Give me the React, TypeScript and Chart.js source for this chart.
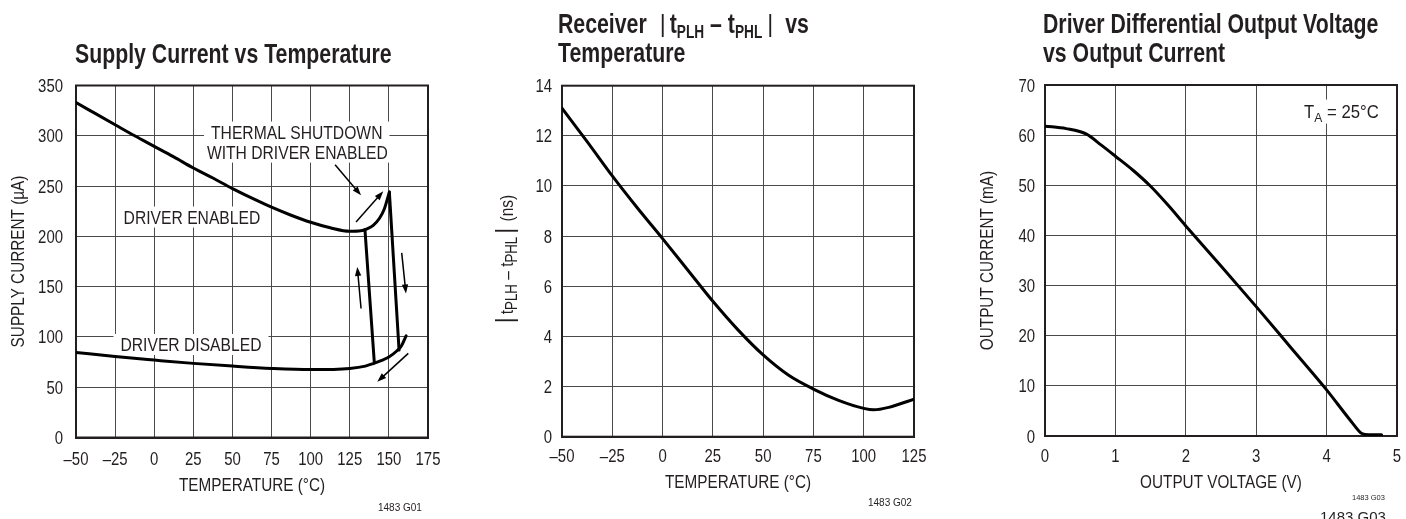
import React, { useEffect, useRef } from "react";
import { Chart, registerables } from "chart.js";

Chart.register(...registerables);

// ---------------- data ----------------
// Chart 1: Supply Current vs Temperature
const SUPPLY_X_TICKS = ["–50", "–25", "0", "25", "50", "75", "100", "125", "150", "175"];
const SUPPLY_Y_TICKS = ["0", "50", "100", "150", "200", "250", "300", "350"];
const ENABLED_TEMP = [-50, -37.5, -25, -12.5, 0, 12.5, 25, 37.5, 50, 62.5, 75, 87.5, 100, 112.5, 125, 132, 136, 140, 144, 147, 150.3];
const ENABLED_CURRENT = [333, 322, 311, 300, 289.5, 279, 268, 258, 247.5, 238, 229, 221, 214, 208.5, 205, 205.5, 207.5, 211, 218, 227, 244];
const SHUTDOWN_TEMP = [150.3, 156.5];
const SHUTDOWN_CURRENT = [244, 87];
const RECOVERY_TEMP = [134.7, 140.7];
const RECOVERY_CURRENT = [206.7, 74.3];
const DISABLED_TEMP = [-50, -25, 0, 25, 50, 75, 100, 125, 135, 140, 145, 150, 155, 158, 161];
const DISABLED_CURRENT = [84.6, 80.5, 77, 73.7, 71, 68.7, 67.5, 68.7, 71, 73.5, 76.5, 80, 86, 91, 101];
const SUPPLY_LABELS = [
  { text: "THERMAL SHUTDOWN", x: 91.1, y: 303.7 },
  { text: "WITH DRIVER ENABLED", x: 91.5, y: 283.8 },
  { text: "DRIVER ENABLED", x: 24.1, y: 219.2 },
  { text: "DRIVER DISABLED", x: 23.5, y: 92.5 },
];
const SUPPLY_ARROWS = [
  { from: [115.6, 271.3], to: [132.2, 240.8] },
  { from: [129, 214.3], to: [146.4, 244.8] },
  { from: [132.2, 128.3], to: [129.8, 169.6] },
  { from: [158.2, 183.5], to: [160.9, 143.2] },
  { from: [162.4, 83.6], to: [142.6, 55.4] },
];

// Chart 2: Receiver |tPLH - tPHL| vs Temperature
const SKEW_X_TICKS = ["–50", "–25", "0", "25", "50", "75", "100", "125"];
const SKEW_Y_TICKS = ["0", "2", "4", "6", "8", "10", "12", "14"];
const SKEW_TEMP = [-50, -37.5, -25, -12.5, 0, 12.5, 25, 37.5, 50, 62.5, 75, 87.5, 100, 105, 112.5, 125];
const SKEW_NS = [13.1, 11.77, 10.4, 9.12, 7.9, 6.65, 5.4, 4.26, 3.26, 2.46, 1.9, 1.45, 1.13, 1.07, 1.17, 1.5];

// Chart 3: Driver Differential Output Voltage vs Output Current
const DRV_X_TICKS = ["0", "1", "2", "3", "4", "5"];
const DRV_Y_TICKS = ["0", "10", "20", "30", "40", "50", "60", "70"];
const DRV_VOLT = [0, 0.3, 0.59, 0.8, 1.0, 1.25, 1.5, 1.75, 2.0, 2.5, 3.0, 3.5, 4.0, 4.35, 4.5, 4.6, 4.78];
const DRV_CURRENT = [61.8, 61.3, 60.2, 58.0, 55.8, 53.0, 49.8, 46.0, 41.9, 33.9, 25.8, 17.5, 9.2, 2.9, 0.5, 0.25, 0.25];
const DRV_NOTE = { x: 3.68, y: 64.7 };

// ---------------- style ----------------
const SANS = '"Liberation Sans", Arial, Helvetica, sans-serif';
const TEXT = "#231f20";
const GRID = "#4a4a4a";
const TITLE = `bold 28px ${SANS}`;
const TITLE_SUB = `bold 18px ${SANS}`;
const BAR = `23px ${SANS}`;
const R18 = `18px ${SANS}`;
const R16 = `16px ${SANS}`;
const R13 = `13px ${SANS}`;
const FOOT = `10px ${SANS}`;
const SX_TITLE = 0.76;
const SX = 0.83;
const SX_AXIS = 0.85;
const SX_LABEL = 0.87;

type Seg = { t: string; font: string; sx?: number; dy?: number; pre?: number };

function measure(ctx: CanvasRenderingContext2D, text: string, font: string, sx: number) {
  ctx.font = font;
  return ctx.measureText(text).width * sx;
}

function drawText(
  ctx: CanvasRenderingContext2D,
  text: string,
  x: number,
  y: number,
  font: string,
  sx: number,
  align: "left" | "center" | "right" = "left"
) {
  const w = measure(ctx, text, font, sx);
  const x0 = align === "left" ? x : align === "center" ? x - w / 2 : x - w;
  ctx.save();
  ctx.translate(x0, y);
  ctx.scale(sx, 1);
  ctx.textAlign = "left";
  ctx.textBaseline = "alphabetic";
  ctx.fillText(text, 0, 0);
  ctx.restore();
  return w;
}

function richWidth(ctx: CanvasRenderingContext2D, segs: Seg[]) {
  let w = 0;
  for (const s of segs) w += (s.pre || 0) + measure(ctx, s.t, s.font, s.sx ?? SX);
  return w;
}

function drawRich(ctx: CanvasRenderingContext2D, segs: Seg[], x: number, y: number) {
  let cx = x;
  for (const s of segs) {
    cx += s.pre || 0;
    cx += drawText(ctx, s.t, cx, y + (s.dy || 0), s.font, s.sx ?? SX, "left");
  }
}

function frame(chart: any) {
  const { ctx, chartArea: a } = chart;
  ctx.save();
  ctx.strokeStyle = TEXT;
  ctx.lineWidth = 2;
  ctx.strokeRect(a.left, a.top, a.right - a.left, a.bottom - a.top);
  ctx.restore();
}

// tick labels and axis titles drawn from the chart's own scales
function axisText(
  chart: any,
  xLabels: string[],
  yLabels: string[],
  xTickBase: number,
  yTickPad: number,
  xTitle: string,
  xTitleBase: number,
  yTitle: string | null,
  yTitleX: number
) {
  const { ctx, chartArea: a, scales } = chart;
  ctx.save();
  ctx.fillStyle = TEXT;
  scales.x.ticks.forEach((t: any, i: number) => {
    const px = scales.x.getPixelForValue(t.value);
    drawText(ctx, xLabels[i] ?? "", px, a.bottom + xTickBase, R18, SX, "center");
  });
  scales.y.ticks.forEach((t: any, i: number) => {
    const py = scales.y.getPixelForValue(t.value);
    drawText(ctx, yLabels[i] ?? "", a.left - yTickPad, py + 6.5, R18, SX, "right");
  });
  drawText(ctx, xTitle, (a.left + a.right) / 2, a.bottom + xTitleBase, R18, SX_AXIS, "center");
  if (yTitle) {
    ctx.translate(yTitleX, (a.top + a.bottom) / 2);
    ctx.rotate(-Math.PI / 2);
    drawText(ctx, yTitle, 0, 0, R18, SX_AXIS, "center");
  }
  ctx.restore();
}

function arrow(ctx: CanvasRenderingContext2D, x1: number, y1: number, x2: number, y2: number) {
  const ang = Math.atan2(y2 - y1, x2 - x1);
  const L = 9;
  const W = 3.2;
  const c = Math.cos(ang);
  const s = Math.sin(ang);
  ctx.beginPath();
  ctx.moveTo(x1, y1);
  ctx.lineTo(x2 - L * 0.6 * c, y2 - L * 0.6 * s);
  ctx.stroke();
  ctx.beginPath();
  ctx.moveTo(x2, y2);
  ctx.lineTo(x2 - L * c + W * s, y2 - L * s - W * c);
  ctx.lineTo(x2 - L * c - W * s, y2 - L * s + W * c);
  ctx.closePath();
  ctx.fill();
}

function linScale(min: number, max: number, step: number, fit: number, horizontal: boolean) {
  return {
    type: "linear",
    min,
    max,
    ticks: { stepSize: step, autoSkip: false, display: false },
    grid: { color: GRID, lineWidth: 1, drawTicks: false },
    border: { display: true, color: TEXT, width: 2 },
    title: { display: false },
    afterFit: (s: any) => {
      if (horizontal) s.height = fit;
      else s.width = fit;
    },
  };
}

function lineDs(xs: number[], ys: number[]) {
  return {
    data: xs.map((x, i) => ({ x, y: ys[i] })),
    borderColor: "#000",
    borderWidth: 3,
    pointRadius: 0,
    fill: false,
    cubicInterpolationMode: "monotone",
    borderCapStyle: "round",
    borderJoinStyle: "round",
  };
}

const baseOptions = {
  animation: false,
  responsive: false,
  events: [],
  plugins: { legend: { display: false }, tooltip: { enabled: false } },
};

// ---------------- chart 1 ----------------
function buildSupply(): any {
  const decor = {
    id: "supplyDecor",
    beforeDatasetsDraw(chart: any) {
      const { ctx, scales } = chart;
      const { x, y } = scales;
      ctx.save();
      ctx.fillStyle = "#fff";
      for (const l of SUPPLY_LABELS) {
        const px = x.getPixelForValue(l.x);
        const py = y.getPixelForValue(l.y);
        const w = measure(ctx, l.text, R18, SX_LABEL);
        ctx.fillRect(px - w / 2 - 7, py - 10.5, w + 14, 21);
      }
      ctx.fillStyle = TEXT;
      for (const l of SUPPLY_LABELS) {
        drawText(ctx, l.text, x.getPixelForValue(l.x), y.getPixelForValue(l.y) + 7, R18, SX_LABEL, "center");
      }
      ctx.restore();
      frame(chart);
    },
    afterDatasetsDraw(chart: any) {
      const { ctx, scales } = chart;
      const { x, y } = scales;
      ctx.save();
      ctx.strokeStyle = "#000";
      ctx.fillStyle = "#000";
      ctx.lineWidth = 1.5;
      for (const a of SUPPLY_ARROWS) {
        arrow(
          ctx,
          x.getPixelForValue(a.from[0]),
          y.getPixelForValue(a.from[1]),
          x.getPixelForValue(a.to[0]),
          y.getPixelForValue(a.to[1])
        );
      }
      ctx.restore();
    },
    afterDraw(chart: any) {
      const { ctx } = chart;
      axisText(chart, SUPPLY_X_TICKS, SUPPLY_Y_TICKS, 27.5, 13, "TEMPERATURE (°C)", 53, "SUPPLY CURRENT (µA)", 24);
      ctx.save();
      ctx.fillStyle = TEXT;
      drawText(ctx, "Supply Current vs Temperature", 75, 63, TITLE, SX_TITLE);
      drawText(ctx, "1483 G01", 378, 511, FOOT, 1);
      ctx.restore();
    },
  };
  return {
    type: "line",
    data: {
      datasets: [
        lineDs(ENABLED_TEMP, ENABLED_CURRENT),
        lineDs(SHUTDOWN_TEMP, SHUTDOWN_CURRENT),
        lineDs(RECOVERY_TEMP, RECOVERY_CURRENT),
        lineDs(DISABLED_TEMP, DISABLED_CURRENT),
      ],
    },
    options: {
      ...baseOptions,
      layout: { padding: { left: 0, right: 42, top: 85.5, bottom: 23.2 } },
      scales: {
        x: linScale(-50, 175, 25, 58.3, true),
        y: linScale(0, 350, 50, 76, false),
      },
    },
    plugins: [decor],
  };
}

// ---------------- chart 2 ----------------
function buildSkew(): any {
  const decor = {
    id: "skewDecor",
    beforeDatasetsDraw(chart: any) {
      frame(chart);
    },
    afterDraw(chart: any) {
      const { ctx } = chart;
      axisText(chart, SKEW_X_TICKS, SKEW_Y_TICKS, 24.8, 10, "TEMPERATURE (°C)", 51.6, null, 0);
      ctx.save();
      ctx.fillStyle = TEXT;
      drawRich(
        ctx,
        [
          { t: "Receiver", font: TITLE, sx: SX_TITLE },
          { t: "|", font: BAR, sx: 1, pre: 13, dy: -1 },
          { t: "t", font: TITLE, sx: SX_TITLE, pre: 4 },
          { t: "PLH", font: TITLE_SUB, sx: SX_TITLE, dy: 5 },
          { t: " – t", font: TITLE, sx: SX_TITLE },
          { t: "PHL", font: TITLE_SUB, sx: SX_TITLE, dy: 5 },
          { t: "|", font: BAR, sx: 1, pre: 5, dy: -1 },
          { t: "vs", font: TITLE, sx: SX_TITLE, pre: 12 },
        ],
        88,
        33.3
      );
      drawText(ctx, "Temperature", 88, 61.7, TITLE, SX_TITLE);
      // rotated y-axis title with subscripts
      const segs: Seg[] = [
        { t: "|", font: BAR, sx: 1, dy: 0 },
        { t: "t", font: R18, sx: 0.86, pre: 3 },
        { t: "PLH", font: R16, sx: 0.83, dy: 4 },
        { t: " – t", font: R18, sx: 0.86 },
        { t: "PHL", font: R16, sx: 0.83, dy: 4 },
        { t: "|", font: BAR, sx: 1, pre: 3, dy: 0 },
        { t: " (ns)", font: R18, sx: 0.86, pre: 2 },
      ];
      const w = richWidth(ctx, segs);
      ctx.translate(43, 259);
      ctx.rotate(-Math.PI / 2);
      drawRich(ctx, segs, -w / 2, 0);
      ctx.setTransform(1, 0, 0, 1, 0, 0);
      drawText(ctx, "1483 G02", 398, 506, FOOT, 1);
      ctx.restore();
    },
  };
  return {
    type: "line",
    data: { datasets: [lineDs(SKEW_TEMP, SKEW_NS)] },
    options: {
      ...baseOptions,
      layout: { padding: { left: 0, right: 26, top: 85.7, bottom: 26.5 } },
      scales: {
        x: linScale(-50, 125, 25, 55.8, true),
        y: linScale(0, 14, 2, 92, false),
      },
    },
    plugins: [decor],
  };
}

// ---------------- chart 3 ----------------
function buildDriver(): any {
  const noteSegs: Seg[] = [
    { t: "T", font: R18, sx: 0.93 },
    { t: "A", font: R13, sx: 0.93, dy: 4 },
    { t: " = 25°C", font: R18, sx: 0.93 },
  ];
  const decor = {
    id: "drvDecor",
    beforeDatasetsDraw(chart: any) {
      const { ctx, scales } = chart;
      const px = scales.x.getPixelForValue(DRV_NOTE.x);
      const py = scales.y.getPixelForValue(DRV_NOTE.y);
      ctx.save();
      const w = richWidth(ctx, noteSegs);
      ctx.fillStyle = "#fff";
      ctx.fillRect(px - 4, py - 12, w + 8, 24);
      ctx.fillStyle = TEXT;
      drawRich(ctx, noteSegs, px, py + 6.5);
      ctx.restore();
      frame(chart);
    },
    afterDraw(chart: any) {
      const { ctx } = chart;
      axisText(chart, DRV_X_TICKS, DRV_Y_TICKS, 25.7, 10, "OUTPUT VOLTAGE (V)", 52.3, "OUTPUT CURRENT (mA)", 53.3);
      ctx.save();
      ctx.fillStyle = TEXT;
      drawText(ctx, "Driver Differential Output Voltage", 103, 33.3, TITLE, SX_TITLE);
      drawText(ctx, "vs Output Current", 103, 61.7, TITLE, SX_TITLE);
      drawText(ctx, "1483 G03", 380, 522, `15px ${SANS}`, 1);
      drawText(ctx, "1483 G03", 412, 500, `7.5px ${SANS}`, 1);
      ctx.restore();
    },
  };
  return {
    type: "line",
    data: { datasets: [lineDs(DRV_VOLT, DRV_CURRENT)] },
    options: {
      ...baseOptions,
      layout: { padding: { left: 0, right: 9, top: 85, bottom: 26.5 } },
      scales: {
        x: linScale(0, 5, 1, 56.5, true),
        y: linScale(0, 70, 10, 105, false),
      },
    },
    plugins: [decor],
  };
}

function Panel({ left, width, build }: { left: number; width: number; build: () => any }) {
  const ref = useRef<HTMLCanvasElement>(null);
  useEffect(() => {
    const chart = new Chart(ref.current as HTMLCanvasElement, build());
    return () => chart.destroy();
  }, []);
  return (
    <canvas
      ref={ref}
      width={width}
      height={519}
      style={{ position: "absolute", left, top: 0, width, height: 519 }}
    />
  );
}

export default function App() {
  return (
    <div
      style={{
        position: "absolute",
        left: 0,
        top: 0,
        width: 1406,
        height: 519,
        background: "#fff",
        overflow: "hidden",
      }}
    >
      <Panel left={0} width={470} build={buildSupply} />
      <Panel left={470} width={470} build={buildSkew} />
      <Panel left={940} width={466} build={buildDriver} />
    </div>
  );
}
